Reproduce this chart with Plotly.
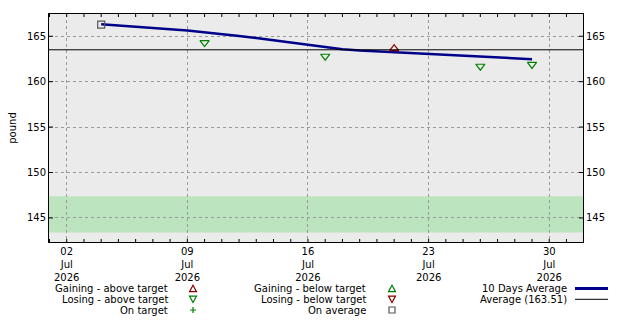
import plotly.graph_objects as go

# ---- data ----
avg_dates = [f"2026-07-{d:02d}" for d in range(4, 30)]
avg_values = [166.32, 166.20, 166.07, 165.93, 165.78, 165.62, 165.44, 165.25,
              165.04, 164.80, 164.54, 164.27, 164.00, 163.76, 163.56, 163.42,
              163.32, 163.22, 163.12, 163.02, 162.94, 162.86, 162.77, 162.68,
              162.58, 162.48]
gain_above_dates = ["2026-07-21"]
gain_above_values = [163.64]
lose_above_dates = ["2026-07-10", "2026-07-17", "2026-07-26", "2026-07-29"]
lose_above_values = [164.30, 162.80, 161.70, 161.90]
on_avg_dates = ["2026-07-04"]
on_avg_values = [166.29]
average_value = 163.51
target_low, target_high = 143.4, 147.4
x_tick0 = "2026-07-02"
x_tick_format = "%d<br>%b<br>%Y"
minor_tick_days = [f"2026-07-{d:02d}" for d in range(1, 32)]
y_tick_vals = [145, 150, 155, 160, 165]
legend_left = ["Gaining - above target", "Losing - above target", "On target"]
legend_mid = ["Gaining - below target", "Losing - below target", "On average"]
legend_right = ["10 Days Average", "Average (163.51)"]

FONT = "DejaVu Sans"
RED = "#8b0000"
GREEN = "#008000"
NAVY = "#00008b"
GREY = "#555555"

L, R, T, B = 49, 583, 14, 242
W, H = 640, 320
DAY = 86400000
X_RANGE = ["2026-06-30 23:20", "2026-07-31 23:00"]


def px(x):
    return (x - L) / (R - L)


def py(y):
    return (B - y) / (B - T)


fig = go.Figure()
fig.add_trace(go.Scatter(x=avg_dates, y=avg_values, mode="lines",
                         line=dict(color=NAVY, width=2.5), showlegend=False))
fig.add_trace(go.Scatter(x=gain_above_dates, y=gain_above_values, mode="markers",
                         marker=dict(symbol="triangle-up-open", size=8, color=RED,
                                     line=dict(width=1.2)), showlegend=False))
fig.add_trace(go.Scatter(x=lose_above_dates, y=lose_above_values, mode="markers",
                         marker=dict(symbol="triangle-down-open", size=8, color=GREEN,
                                     line=dict(width=1.2)), showlegend=False))
fig.add_trace(go.Scatter(x=on_avg_dates, y=on_avg_values, mode="markers",
                         marker=dict(symbol="square-open", size=7, color=GREY,
                                     line=dict(width=1.2)), showlegend=False))
# invisible trace to show right axis
fig.add_trace(go.Scatter(x=on_avg_dates, y=on_avg_values, yaxis="y2", mode="markers",
                         marker=dict(opacity=0), showlegend=False, hoverinfo="skip"))

fig.add_shape(type="rect", xref="paper", x0=0, x1=1, yref="y", y0=target_low, y1=target_high,
              fillcolor="#bbe4bf", line=dict(width=0), layer="below")
fig.add_shape(type="line", xref="paper", x0=0, x1=1, yref="y", y0=average_value, y1=average_value,
              line=dict(color="black", width=1))

# ---- tick marks (daily on bottom/top, inside; y ticks inside both sides) ----
for d in minor_tick_days:
    ln = 3
    for y0, y1 in [(0, ln / (B - T)), (1 - ln / (B - T), 1)]:
        fig.add_shape(type="line", xref="x", yref="paper", x0=d, x1=d, y0=y0, y1=y1,
                      line=dict(color="black", width=1))
for v in y_tick_vals:
    ln = 4 / (R - L)
    for x0, x1 in [(0, ln), (1 - ln, 1)]:
        fig.add_shape(type="line", xref="paper", yref="y", x0=x0, x1=x1, y0=v, y1=v,
                      line=dict(color="black", width=1))

# ---- custom legend: text right-aligned, symbol on the right ----
rows = [288.5, 299.3, 310]
sym_x = [193, 392]


def sym_path(kind, cx, cy):
    a, b = 3.5, 3.2
    if kind == "up":
        pts = [(cx - a, cy + b), (cx + a, cy + b), (cx, cy - b)]
    elif kind == "down":
        pts = [(cx - a, cy - b), (cx + a, cy - b), (cx, cy + b)]
    elif kind == "square":
        s = 3
        pts = [(cx - s, cy - s), (cx + s, cy - s), (cx + s, cy + s), (cx - s, cy + s)]
    else:
        s = 3
        return (f"M{px(cx - s)},{py(cy)} L{px(cx + s)},{py(cy)} "
                f"M{px(cx)},{py(cy - s)} L{px(cx)},{py(cy + s)}")
    return "M" + " L".join(f"{px(x)},{py(y)}" for x, y in pts) + " Z"


sym_defs = [
    [("up", RED), ("down", GREEN), ("plus", GREEN)],
    [("up", GREEN), ("down", RED), ("square", GREY)],
]
for col_i, (labels, tx) in enumerate([(legend_left, 170), (legend_mid, 368)]):
    for label, ry in zip(labels, rows):
        fig.add_annotation(x=px(tx), y=py(ry), xref="paper", yref="paper", text=label,
                           showarrow=False, xanchor="right", yanchor="middle",
                           font=dict(family=FONT, size=10, color="black"))
    for (kind, col), ry in zip(sym_defs[col_i], rows):
        fig.add_shape(type="path", xref="paper", yref="paper",
                      path=sym_path(kind, sym_x[col_i], ry),
                      line=dict(color=col, width=1.2), fillcolor="rgba(0,0,0,0)")
for label, ry, lw, col in [(legend_right[0], rows[0], 3, NAVY), (legend_right[1], rows[1], 1, "black")]:
    fig.add_annotation(x=px(569), y=py(ry), xref="paper", yref="paper", text=label,
                       showarrow=False, xanchor="right", yanchor="middle",
                       font=dict(family=FONT, size=10, color="black"))
    fig.add_shape(type="line", xref="paper", yref="paper", x0=px(575), x1=px(608),
                  y0=py(ry), y1=py(ry), line=dict(color=col, width=lw))

yaxis_common = dict(range=[142.35, 167.45], tickmode="array", tickvals=y_tick_vals,
                    ticks="", showline=True, linecolor="black", linewidth=1,
                    zeroline=False, automargin=False,
                    tickfont=dict(family=FONT, size=10, color="black"))

fig.update_layout(
    width=W, height=H,
    margin=dict(l=L, r=W - R, t=T, b=H - B, pad=0, autoexpand=False),
    paper_bgcolor="white", plot_bgcolor="#ebebeb",
    font=dict(family=FONT, size=10, color="black"),
    showlegend=False,
    xaxis=dict(range=X_RANGE, tickmode="linear",
               tick0=x_tick0, dtick=7 * DAY, tickformat=x_tick_format,
               ticks="", automargin=False,
               showline=True, linecolor="black", linewidth=1,
               mirror=True, showgrid=True, gridcolor="#999999", griddash="dot",
               gridwidth=1, zeroline=False,
               tickfont=dict(family=FONT, size=10, color="black")),
    yaxis=dict(**yaxis_common, mirror=True, showgrid=True, gridcolor="#999999",
               griddash="dot", gridwidth=1,
               title=dict(text="pound", font=dict(family=FONT, size=10), standoff=8)),
    yaxis2=dict(**yaxis_common, overlaying="y", side="right", showgrid=False),
)

fig.write_html("out.html")
